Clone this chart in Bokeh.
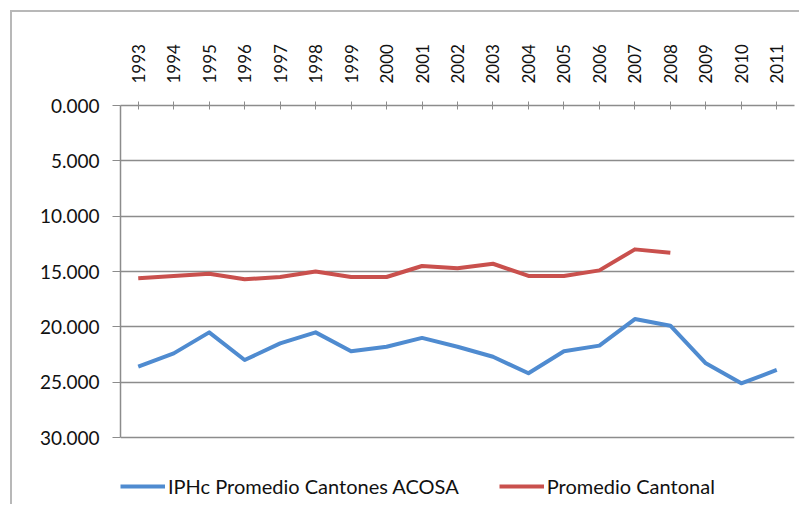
from bokeh.plotting import figure
from bokeh.models import Range1d, FactorRange, NumeralTickFormatter, Legend, LegendItem, FixedTicker, LinearAxis, CategoricalAxis
from bokeh.embed import file_html
from bokeh.resources import INLINE
import math

years = ["1993", "1994", "1995", "1996", "1997", "1998", "1999", "2000", "2001", "2002",
         "2003", "2004", "2005", "2006", "2007", "2008", "2009", "2010", "2011"]
acosa = [23.6, 22.4, 20.5, 23.0, 21.5, 20.5, 22.2, 21.8, 21.0, 21.8,
         22.7, 24.2, 22.2, 21.7, 19.3, 19.9, 23.3, 25.1, 23.9]
cantonal_years = years[:16]
cantonal = [15.6, 15.4, 15.2, 15.7, 15.5, 15.0, 15.5, 15.5, 14.5, 14.7,
            14.3, 15.4, 15.4, 14.9, 13.0, 13.3]
y_ticks = [0, 5, 10, 15, 20, 25, 30]

FONT = "Lato"
BLUE = "#4F8BD0"
RED = "#C9504D"

W, H = 799, 504
TOP, AXIS_BOTTOM = 105, 437
# frame extends to the bottom so the legend can sit beneath the 30.000 line
y_end = 30 * (H - TOP) / (AXIS_BOTTOM - TOP)

p = figure(width=W, height=H, x_range=FactorRange(*years), y_range=Range1d(y_end, 0),
           output_backend="svg", toolbar_location=None,
           x_axis_location=None, y_axis_location=None)
p.min_border_left = 120
p.min_border_right = 5
p.min_border_top = TOP
p.min_border_bottom = 0
p.outline_line_color = None
p.background_fill_color = "white"
p.border_fill_color = None
p.styles = {"background": "linear-gradient(#b8b8b8,#b8b8b8) 10px 10px / 2px 100% no-repeat, "
                          "linear-gradient(#b8b8b8,#b8b8b8) 10px 10px / 100% 2px no-repeat, white"}

# y axis (left)
ya = LinearAxis(ticker=FixedTicker(ticks=y_ticks), formatter=NumeralTickFormatter(format="0.000"),
                bounds=(0, 30))
ya.axis_line_color = "#8c8c8c"
ya.axis_line_width = 1.5
ya.major_tick_line_color = "#8c8c8c"
ya.major_tick_out = 8
ya.major_tick_in = 0
ya.minor_tick_line_color = None
ya.major_label_text_font = FONT
ya.major_label_text_font_size = "19px"
ya.major_label_text_color = "#111111"
ya.major_label_standoff = 13
p.add_layout(ya, "left")

# x axis (above)
xa = CategoricalAxis()
xa.axis_line_color = "#8c8c8c"
xa.axis_line_width = 1.5
xa.major_tick_line_color = "#8c8c8c"
xa.major_tick_out = 4
xa.major_tick_in = 4
xa.major_label_orientation = math.pi / 2
xa.major_label_text_font = FONT
xa.major_label_text_font_size = "17px"
xa.major_label_text_color = "#111111"
xa.major_label_standoff = 18
p.add_layout(xa, "above")

p.xgrid.grid_line_color = None
p.ygrid.ticker = FixedTicker(ticks=y_ticks)
p.ygrid.grid_line_color = "#8c8c8c"
p.ygrid.grid_line_width = 1.5

r1 = p.line(years, acosa, line_color=BLUE, line_width=4, line_join="round")
r2 = p.line(cantonal_years, cantonal, line_color=RED, line_width=4, line_join="round")

legend = Legend(items=[LegendItem(label="IPHc Promedio Cantones ACOSA", renderers=[r1]),
                       LegendItem(label="Promedio Cantonal", renderers=[r2])],
                orientation="horizontal", location=(0, 6))
legend.label_text_font = FONT
legend.label_text_font_size = "20px"
legend.label_text_color = "#111111"
legend.glyph_width = 45
legend.glyph_height = 20
legend.label_standoff = 3
legend.spacing = 40
legend.padding = 0
legend.margin = 0
legend.border_line_color = None
legend.background_fill_alpha = 0
p.add_layout(legend, "center")

open("out.html", "w").write(file_html(p, INLINE))
